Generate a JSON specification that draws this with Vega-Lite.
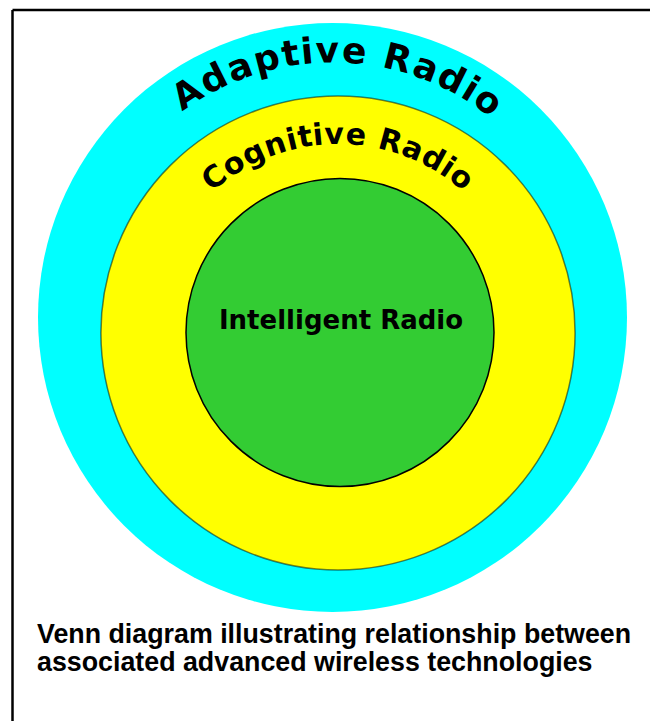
{
  "$schema": "https://vega.github.io/schema/vega-lite/v6.json",
  "autosize": "none",
  "padding": 0,
  "width": 650,
  "height": 721,
  "background": "white",
  "config": {"view": {"stroke": null}},
  "datasets": {
    "rings": [
      {"name": "Adaptive", "cx": 332.5, "cy": 317.5, "r": 294.5, "tr": 266},
      {"name": "Cognitive", "cx": 338, "cy": 333, "r": 237, "tr": 198},
      {"name": "Intelligent", "cx": 340, "cy": 332.5, "r": 154, "tr": 0}
    ],
    "letters": [
      {"ring": "Adaptive", "ch": "A", "t": -33.0},
      {"ring": "Adaptive", "ch": "d", "t": -26.5},
      {"ring": "Adaptive", "ch": "a", "t": -20.4},
      {"ring": "Adaptive", "ch": "p", "t": -14.3},
      {"ring": "Adaptive", "ch": "t", "t": -9.1},
      {"ring": "Adaptive", "ch": "i", "t": -5.5},
      {"ring": "Adaptive", "ch": "v", "t": -1.1},
      {"ring": "Adaptive", "ch": "e", "t": 4.7},
      {"ring": "Adaptive", "ch": "R", "t": 14.1},
      {"ring": "Adaptive", "ch": "a", "t": 20.5},
      {"ring": "Adaptive", "ch": "d", "t": 26.5},
      {"ring": "Adaptive", "ch": "i", "t": 31.2},
      {"ring": "Adaptive", "ch": "o", "t": 35.7},
      {"ring": "Cognitive", "ch": "C", "t": -38.5},
      {"ring": "Cognitive", "ch": "o", "t": -31.8},
      {"ring": "Cognitive", "ch": "g", "t": -25.2},
      {"ring": "Cognitive", "ch": "n", "t": -18.5},
      {"ring": "Cognitive", "ch": "i", "t": -13.5},
      {"ring": "Cognitive", "ch": "t", "t": -9.6},
      {"ring": "Cognitive", "ch": "i", "t": -5.8},
      {"ring": "Cognitive", "ch": "v", "t": -1.1},
      {"ring": "Cognitive", "ch": "e", "t": 5.2},
      {"ring": "Cognitive", "ch": "R", "t": 15.3},
      {"ring": "Cognitive", "ch": "a", "t": 22.1},
      {"ring": "Cognitive", "ch": "d", "t": 28.7},
      {"ring": "Cognitive", "ch": "i", "t": 33.6},
      {"ring": "Cognitive", "ch": "o", "t": 38.5}
    ],
    "labels": [
      {"label": "Intelligent Radio", "x": 341, "y": 321}
    ],
    "caption": [
      {"label": "Venn diagram illustrating relationship between", "x": 37, "y": 643},
      {"label": "associated advanced wireless technologies", "x": 37, "y": 671}
    ],
    "frame": [
      {"x": 12.5, "y": 10, "x2": 650, "y2": 10},
      {"x": 12.5, "y": 10, "x2": 12.5, "y2": 721}
    ]
  },
  "layer": [
    {
      "data": {"name": "rings"},
      "mark": {"type": "arc", "theta": 0, "theta2": 6.2832, "stroke": "black", "strokeWidth": 1.5},
      "encoding": {
        "x": {"field": "cx", "type": "quantitative", "scale": {"domain": [0, 650], "nice": false, "zero": false}, "axis": null},
        "y": {"field": "cy", "type": "quantitative", "scale": {"domain": [0, 721], "nice": false, "zero": false, "reverse": true}, "axis": null},
        "radius": {"field": "r", "type": "quantitative", "stack": null, "scale": {"type": "linear", "domain": [0, 650], "range": [0, 650], "nice": false, "zero": true}},
        "color": {"field": "name", "type": "nominal", "scale": {"domain": ["Adaptive", "Cognitive", "Intelligent"], "range": ["#00FFFF", "#FFFF00", "#33CC33"]}, "legend": null},
        "strokeOpacity": {"field": "name", "type": "nominal", "scale": {"domain": ["Adaptive", "Cognitive", "Intelligent"], "range": [0, 1, 1]}, "legend": null},
        "order": {"field": "r", "type": "quantitative", "sort": "descending"}
      }
    },
    {
      "data": {"name": "letters"},
      "transform": [
        {"lookup": "ring", "from": {"data": {"name": "rings"}, "key": "name", "fields": ["cx", "cy", "tr"]}}
      ],
      "mark": {"type": "text", "font": "DejaVu Sans", "fontWeight": "bold", "align": "center", "baseline": "middle", "color": "black"},
      "encoding": {
        "x": {"field": "cx", "type": "quantitative", "scale": {"domain": [0, 650], "nice": false, "zero": false}, "axis": null},
        "y": {"field": "cy", "type": "quantitative", "scale": {"domain": [0, 721], "nice": false, "zero": false, "reverse": true}, "axis": null},
        "theta": {"field": "t", "type": "quantitative", "stack": null, "scale": {"domain": [0, 360], "range": [0, 6.283185307], "nice": false, "zero": false}},
        "radius": {"field": "tr", "type": "quantitative", "stack": null, "scale": {"type": "linear", "domain": [0, 650], "range": [0, 650], "nice": false, "zero": true}},
        "angle": {"field": "t", "type": "quantitative", "scale": {"domain": [0, 360], "range": [0, 360], "nice": false, "zero": false}},
        "size": {"field": "ring", "type": "ordinal", "scale": {"domain": ["Adaptive", "Cognitive"], "range": [36, 30]}, "legend": null},
        "text": {"field": "ch"}
      }
    },
    {
      "data": {"name": "labels"},
      "mark": {"type": "text", "font": "DejaVu Sans", "fontWeight": "bold", "fontSize": 26, "align": "center", "baseline": "middle", "color": "black"},
      "encoding": {
        "x": {"field": "x", "type": "quantitative", "scale": {"domain": [0, 650], "nice": false, "zero": false}, "axis": null},
        "y": {"field": "y", "type": "quantitative", "scale": {"domain": [0, 721], "nice": false, "zero": false, "reverse": true}, "axis": null},
        "text": {"field": "label"}
      }
    },
    {
      "data": {"name": "caption"},
      "mark": {"type": "text", "font": "Liberation Sans", "fontWeight": "bold", "fontSize": 26.8, "align": "left", "baseline": "alphabetic", "color": "black"},
      "encoding": {
        "x": {"field": "x", "type": "quantitative", "scale": {"domain": [0, 650], "nice": false, "zero": false}, "axis": null},
        "y": {"field": "y", "type": "quantitative", "scale": {"domain": [0, 721], "nice": false, "zero": false, "reverse": true}, "axis": null},
        "text": {"field": "label"}
      }
    },
    {
      "data": {"name": "frame"},
      "mark": {"type": "rule", "color": "black", "strokeWidth": 2.5},
      "encoding": {
        "x": {"field": "x", "type": "quantitative", "scale": {"domain": [0, 650], "nice": false, "zero": false}, "axis": null},
        "y": {"field": "y", "type": "quantitative", "scale": {"domain": [0, 721], "nice": false, "zero": false, "reverse": true}, "axis": null},
        "x2": {"field": "x2"},
        "y2": {"field": "y2"}
      }
    }
  ]
}
